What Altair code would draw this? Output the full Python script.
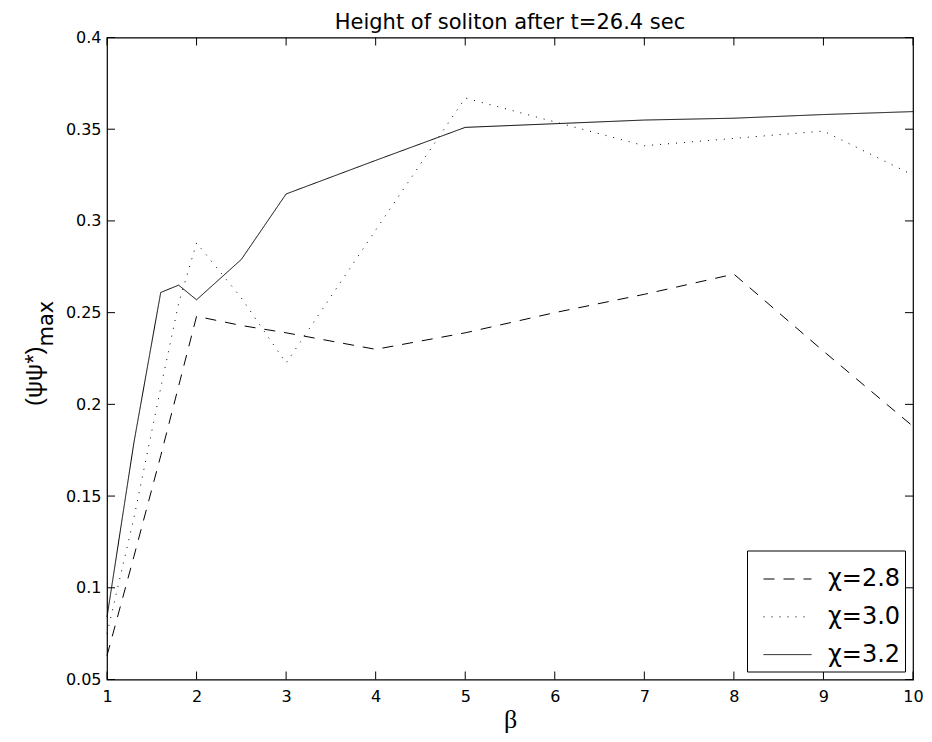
import altair as alt
import pandas as pd

# ---- data ----
beta = [1, 1.3, 1.6, 1.8, 2, 2.5, 3, 4, 5, 6, 7, 8, 9, 10]
chi_28 = [0.063, 0.117, 0.172, 0.210, 0.248, 0.243, 0.239, 0.230, 0.239, 0.250, 0.260, 0.271, 0.229, 0.188]
chi_30 = [0.075, 0.138, 0.209, 0.255, 0.288, 0.258, 0.2225, 0.295, 0.367, 0.354, 0.341, 0.345, 0.349, 0.325]
chi_32 = [0.084, 0.179, 0.261, 0.265, 0.257, 0.279, 0.3147, 0.333, 0.351, 0.353, 0.355, 0.356, 0.358, 0.3596]
series = ["χ=2.8", "χ=3.0", "χ=3.2"]
x_ticks = [1, 2, 3, 4, 5, 6, 7, 8, 9, 10]
y_ticks = [0.05, 0.1, 0.15, 0.2, 0.25, 0.3, 0.35, 0.4]
title_text = "Height of soliton after t=26.4 sec"

rows = []
for name, vals in zip(series, [chi_28, chi_30, chi_32]):
    for b, v in zip(beta, vals):
        rows.append({"beta": b, "psi": v, "series": name})
df = pd.DataFrame(rows)

W, H = 806, 642
TICK = 8
FONT = "DejaVu Sans"

xscale = alt.Scale(domain=[1, 10], nice=False, zero=False)
yscale = alt.Scale(domain=[0.05, 0.4], nice=False, zero=False)
xaxis = alt.Axis(values=x_ticks, title="β", titleFont="Liberation Serif",
                 titleFontSize=26, titleFontWeight="normal", titleColor="black",
                 labelPadding=9, titlePadding=2)
yaxis = alt.Axis(values=y_ticks, format="~g", title=None, labelPadding=6)

lines = alt.Chart(df).mark_line(strokeWidth=1, color="black").encode(
    x=alt.X("beta:Q", scale=xscale, axis=xaxis),
    y=alt.Y("psi:Q", scale=yscale, axis=yaxis),
    strokeDash=alt.StrokeDash("series:N",
                              scale=alt.Scale(domain=series, range=[[11, 9], [1, 7], [1, 0]]),
                              legend=alt.Legend(title=None, orient="bottom-right", offset=8.5,
                                                padding=4, strokeColor="black", fillColor="white",
                                                labelFontSize=24, labelFont=FONT, labelColor="black",
                                                symbolType="stroke", symbolSize=2304,
                                                symbolStrokeWidth=1, symbolStrokeColor="black",
                                                symbolOffset=12, labelOffset=16, rowPadding=0.8)),
)

xt_df = pd.DataFrame({"v": x_ticks})
yt_df = pd.DataFrame({"v": y_ticks})

xt_bottom = alt.Chart(xt_df).mark_rule(color="black", strokeWidth=1).encode(
    x=alt.X("v:Q", scale=xscale, axis=xaxis), y=alt.value(H), y2=alt.value(H - TICK))
xt_top = alt.Chart(xt_df).mark_rule(color="black", strokeWidth=1).encode(
    x=alt.X("v:Q", scale=xscale, axis=xaxis), y=alt.value(0), y2=alt.value(TICK))
yt_left = alt.Chart(yt_df).mark_rule(color="black", strokeWidth=1).encode(
    y=alt.Y("v:Q", scale=yscale, axis=yaxis), x=alt.value(0), x2=alt.value(TICK))
yt_right = alt.Chart(yt_df).mark_rule(color="black", strokeWidth=1).encode(
    y=alt.Y("v:Q", scale=yscale, axis=yaxis), x=alt.value(W), x2=alt.value(W - TICK))

ytitle_main = alt.Chart(pd.DataFrame({"t": ["(ψψ*)"]})).mark_text(
    angle=270, align="right", baseline="alphabetic", fontSize=24, font="Liberation Sans", color="black"
).encode(text="t:N", x=alt.value(-65), y=alt.value(309))
ytitle_sub = alt.Chart(pd.DataFrame({"t": ["max"]})).mark_text(
    angle=270, align="left", baseline="alphabetic", fontSize=21, font=FONT, color="black"
).encode(text="t:N", x=alt.value(-54), y=alt.value(309))

title = alt.Chart(pd.DataFrame({"t": [title_text]})).mark_text(
    align="center", baseline="alphabetic", fontSize=21, font=FONT, color="black"
).encode(text="t:N", x=alt.value(W / 2), y=alt.value(-9))

chart = alt.layer(lines, xt_bottom, xt_top, yt_left, yt_right,
                  ytitle_main, ytitle_sub, title).properties(
    width=W, height=H,
    autosize=alt.AutoSizeParams(type="none"),
    padding={"left": 99, "top": 29.5, "right": 10, "bottom": 54},
).configure_view(stroke="black", strokeWidth=1.2).configure_axis(
    grid=False, domain=False, ticks=False, labelFont=FONT, labelFontSize=16,
    labelColor="black", labelFlush=False, labelOverlap=False
)

chart.save("out.html", embed_options={"renderer": "svg", "actions": False})
